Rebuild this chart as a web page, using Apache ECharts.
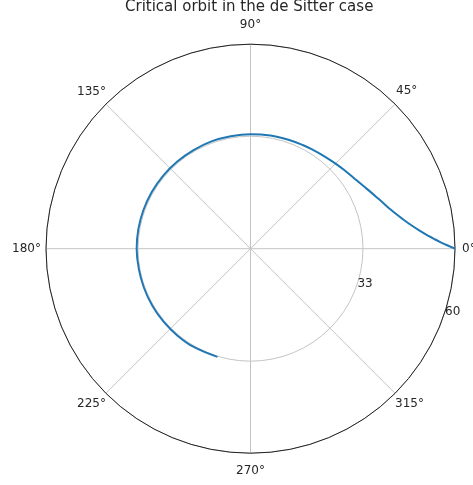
<!DOCTYPE html>
<html>
<head>
<meta charset="utf-8">
<script src="https://cdn.jsdelivr.net/npm/echarts@6/dist/echarts.min.js"></script>
<style>
  html, body { margin: 0; padding: 0; background: #fff; }
  #chart { width: 473px; height: 485px; }
</style>
</head>
<body>
<div id="chart"></div>
<script>
// Orbit samples: polar angle (degrees) and radial coordinate
const thetaDeg = [0, 1, 2, 3, 4, 6, 8.5, 11, 13.5, 15.5, 18, 21, 25.5, 29, 33, 36.5, 40, 44, 48, 53, 57.5, 63, 70, 80, 90,
                  100, 110, 120, 130, 140, 150, 160, 170, 180, 190, 200, 210, 220, 230, 240, 253];
const radius = [60, 57.7, 55.7, 54.0, 52.5, 50.0, 47.5, 45.5, 43.85, 42.75, 41.6, 40.4, 38.9, 37.9, 37.0, 36.4, 35.9, 35.4, 35.0, 34.6, 34.3, 34.05, 33.85, 33.7, 33.6,
                33.5, 33.5, 33.4, 33.4, 33.4, 33.4, 33.4, 33.4, 33.4, 33.3, 33.3, 33.3, 33.3, 33.3, 33.3, 33.2];

// Axis settings
const angleTicks = [0, 45, 90, 135, 180, 225, 270, 315];
const radialTicks = [33, 60];
const radialMax = 60;

const FONT = 'DejaVu Sans';
const TEXT = '#262626';
const GRID = '#c4c4c4';
const center = [250.5, 248.7];
const outerR = 204.5;

// Per-direction spacing of the angle labels from the outer circle
const labelPad = {
  0: [0, 0, 0, 7],
  45: [0, 0, 7, 1],
  90: [0, 0, 13, 0],
  135: [0, 0, 6, 0],
  180: [0, 5, 0, 0],
  225: [5, 0, 0, 0],
  270: [12, 0, 0, 0],
  315: [5, 0, 0, 0]
};
const angleRich = {};
angleTicks.forEach(t => {
  angleRich['a' + t] = { padding: labelPad[t], fontFamily: FONT, fontSize: 12, color: TEXT };
});

const orbit = thetaDeg.map((t, i) => [radius[i], t]);

const chart = echarts.init(document.getElementById('chart'), null, { renderer: 'canvas' });
chart.setOption({
  animation: false,
  backgroundColor: '#ffffff',
  title: {
    text: 'Critical orbit in the de Sitter case',
    left: 125,
    top: 0,
    padding: 0,
    textStyle: { fontFamily: FONT, fontSize: 15, fontWeight: 'normal', color: TEXT }
  },
  polar: [
    { center: center, radius: outerR },
    { center: center, radius: outerR }
  ],
  angleAxis: [
    {
      polarIndex: 0,
      type: 'value',
      min: 0,
      max: 360,
      interval: 45,
      startAngle: 0,
      clockwise: false,
      axisLine: { show: true, lineStyle: { color: '#222', width: 1 } },
      axisTick: { show: false },
      axisLabel: {
        show: true,
        margin: 0,
        fontFamily: FONT,
        fontSize: 12,
        color: TEXT,
        rich: angleRich,
        formatter: v => angleTicks.includes(v) ? '{a' + v + '|' + v + '°}' : ''
      },
      splitLine: { show: true, lineStyle: { color: GRID, width: 1 } }
    },
    {
      polarIndex: 1,
      type: 'value',
      min: 0,
      max: 360,
      startAngle: -18,
      clockwise: false,
      axisLine: { show: false },
      axisTick: { show: false },
      axisLabel: { show: false },
      splitLine: { show: false }
    }
  ],
  radiusAxis: [
    {
      polarIndex: 0,
      type: 'value',
      min: 0,
      max: radialMax,
      interval: radialTicks[0],
      axisLine: { show: false },
      axisTick: { show: false },
      axisLabel: { show: false },
      splitLine: { show: true, lineStyle: { color: GRID, width: 1 } }
    },
    {
      polarIndex: 1,
      type: 'value',
      min: 0,
      max: radialMax,
      interval: radialTicks[0],
      axisLine: { show: false },
      axisTick: { show: false },
      splitLine: { show: false },
      axisLabel: {
        show: true,
        margin: 0,
        fontFamily: FONT,
        fontSize: 12,
        color: TEXT,
        formatter: v => radialTicks.includes(v) ? String(v) : ''
      }
    }
  ],
  series: [
    {
      type: 'line',
      coordinateSystem: 'polar',
      polarIndex: 0,
      data: orbit,
      smooth: 0.4,
      showSymbol: false,
      lineStyle: { color: '#1f77b4', width: 2 }
    }
  ]
});
</script>
</body>
</html>
